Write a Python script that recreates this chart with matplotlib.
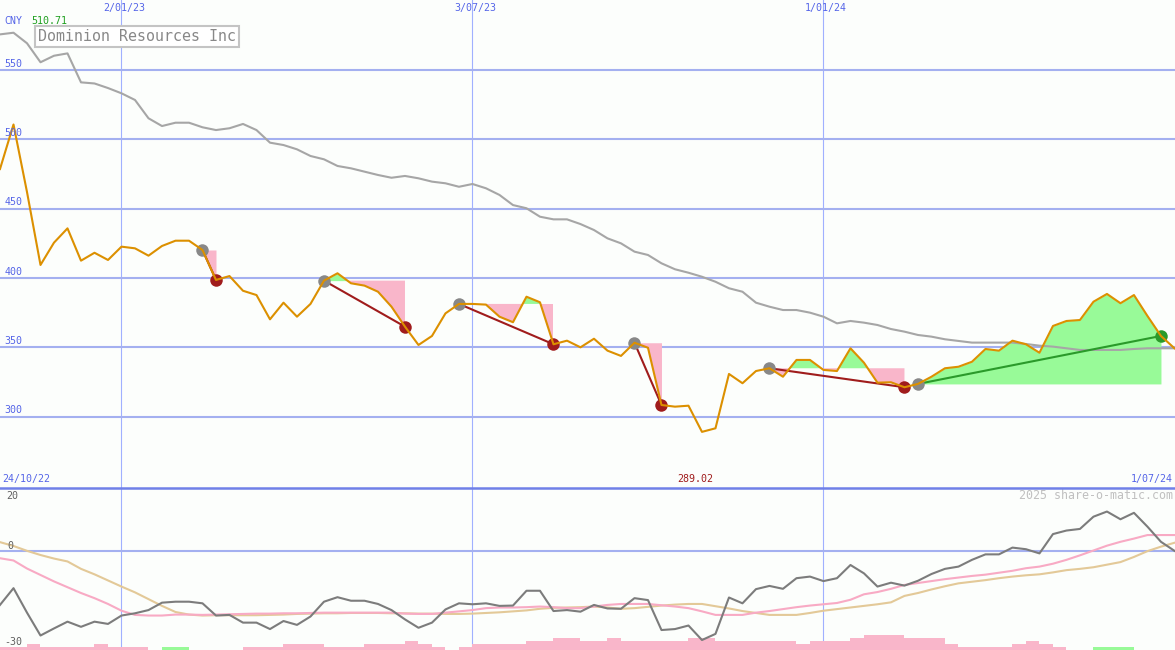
import matplotlib.pyplot as plt
import numpy as np
from matplotlib.lines import Line2D

plt.rcParams['font.family'] = ['DejaVu Sans Mono']

# weekly closes, 31/10/22 .. 1/07/24 (one value per week)
price = [478.6, 510.71, 462.0, 409.4, 425.5, 435.8, 412.5, 418.2, 413.0, 422.6,
         421.4, 416.1, 423.1, 426.9, 426.9, 420.2, 398.6, 401.4, 390.8, 387.7,
         370.2, 382.2, 372.1, 381.3, 398.1, 403.4, 396.2, 394.5, 390.1, 379.3,
         364.9, 351.7, 358.2, 374.5, 381.3, 381.3, 380.8, 372.1, 368.1, 386.5,
         382.5, 352.2, 354.8, 350.0, 356.2, 347.6, 343.8, 353.3, 349.7, 308.4,
         307.2, 307.9, 289.02, 291.6, 330.8, 324.1, 332.9, 334.9, 328.8, 340.9,
         340.9, 333.7, 332.9, 349.3, 338.9, 324.5, 324.8, 321.2, 323.6, 328.8,
         334.9, 336.0, 339.6, 348.8, 347.6, 354.8, 352.2, 346.1, 365.4, 369.0,
         369.7, 382.9, 388.5, 381.8, 387.7, 372.6, 358.2, 349.3]

# moving average (grey line)
mavg = [575.7, 576.9, 569.3, 555.6, 560.3, 562.0, 541.1, 540.3, 537.0, 533.2,
        528.4, 515.2, 509.6, 512.0, 512.0, 508.7, 506.7, 508.0, 511.1, 506.7,
        497.6, 495.9, 492.8, 488.0, 485.6, 480.8, 479.1, 476.7, 474.3, 472.3,
        473.6, 471.9, 469.5, 468.3, 465.8, 467.8, 464.7, 459.9, 452.6, 450.3,
        444.2, 442.3, 442.3, 438.9, 434.6, 428.6, 425.0, 419.0, 416.6, 410.6,
        406.3, 403.8, 400.9, 397.3, 392.6, 390.1, 382.2, 379.3, 376.9, 376.9,
        375.0, 372.1, 367.3, 369.0, 367.8, 366.1, 363.2, 361.3, 358.9, 357.7,
        355.8, 354.6, 353.4, 353.4, 353.4, 353.4, 352.4, 351.2, 350.5, 349.3,
        348.1, 348.1, 348.1, 348.1, 348.8, 349.3, 349.3, 349.3]

# lower panel indicators
osc = [-16.6, -11.4, -19.0, -26.1, -23.9, -21.8, -23.4, -21.8, -22.5, -19.9,
       -19.2, -18.2, -15.9, -15.6, -15.6, -16.1, -19.9, -19.7, -22.1, -22.1,
       -24.1, -21.6, -22.8, -20.2, -15.6, -14.2, -15.3, -15.3, -16.3, -18.2,
       -21.1, -23.7, -22.1, -18.0, -16.1, -16.4, -16.1, -16.9, -16.8, -12.2,
       -12.2, -18.5, -18.2, -18.7, -16.6, -17.7, -17.8, -14.5, -15.1, -24.4,
       -24.1, -23.0, -27.5, -25.6, -14.3, -16.1, -11.7, -10.7, -11.6, -8.3,
       -7.8, -9.2, -8.3, -4.2, -6.8, -10.9, -9.7, -10.6, -9.1, -7.0,
       -5.4, -4.7, -2.6, -0.9, -0.9, 1.2, 0.7, -0.6, 5.4, 6.5,
       7.0, 10.8, 12.4, 10.0, 12.0, 7.7, 3.0, 0.2]

sig_fast = [-2.1, -2.8, -5.3, -7.3, -9.3, -11.1, -12.9, -14.5, -16.3, -18.4,
            -19.7, -19.9, -19.9, -19.6, -19.6, -19.7, -19.6, -19.5, -19.4, -19.3,
            -19.3, -19.2, -19.2, -19.1, -19.0, -19.0, -19.0, -19.0, -19.0, -19.0,
            -19.3, -19.4, -19.4, -19.0, -18.6, -18.2, -17.6, -17.4, -17.4, -17.3,
            -17.1, -17.3, -17.6, -17.6, -17.1, -16.6, -16.3, -16.3, -16.3, -16.7,
            -17.1, -17.6, -18.6, -19.7, -19.7, -19.7, -19.0, -18.5, -17.9, -17.3,
            -16.8, -16.4, -16.0, -15.0, -13.3, -12.6, -11.6, -10.4, -9.8, -9.2,
            -8.6, -8.1, -7.6, -7.2, -6.6, -6.0, -5.2, -4.7, -3.8, -2.6,
            -1.2, 0.3, 1.8, 3.0, 4.0, 5.1, 5.1, 5.1]

sig_slow = [2.9, 1.7, 0.2, -1.1, -2.2, -3.1, -5.4, -7.1, -9.0, -10.9,
            -12.7, -14.8, -16.9, -18.8, -19.6, -19.9, -19.8, -19.8, -19.8, -19.8,
            -19.7, -19.6, -19.4, -19.3, -19.2, -19.2, -19.1, -19.1, -19.1, -19.2,
            -19.2, -19.3, -19.3, -19.4, -19.4, -19.3, -19.1, -18.9, -18.6, -18.3,
            -17.8, -17.5, -17.4, -17.3, -17.1, -17.4, -17.8, -17.6, -17.2, -16.8,
            -16.5, -16.3, -16.3, -17.0, -17.7, -18.5, -19.1, -19.7, -19.7, -19.7,
            -19.1, -18.4, -17.9, -17.4, -16.9, -16.4, -15.8, -13.8, -12.9, -11.8,
            -10.8, -9.9, -9.4, -8.9, -8.3, -7.8, -7.4, -7.1, -6.5, -5.8,
            -5.4, -4.9, -4.1, -3.3, -1.7, 0.1, 1.5, 2.7]

# small bars along the bottom (negative = green)
bars = [1, 1, 2, 1, 1, 1, 1, 2, 1, 1,
        1, 0, -1, -1, 0, 0, 0, 0, 1, 1,
        1, 2, 2, 2, 1, 1, 1, 2, 2, 2,
        3, 2, 1, 0, 1, 2, 2, 2, 2, 3,
        3, 4, 4, 3, 3, 4, 3, 3, 3, 3,
        3, 4, 4, 3, 3, 3, 3, 3, 3, 2,
        3, 3, 3, 4, 5, 5, 5, 4, 4, 4,
        2, 1, 1, 1, 1, 2, 3, 2, 1, 0,
        0, -1, -1, -1, 0, 0, 0, 0]

# trades: entry week / exit week
entries = [15, 24, 34, 47, 57, 68]
exits = [16, 30, 41, 49, 67, 86]

date_idx = [9, 35, 61]
date_labels = ['2/01/23', '3/07/23', '1/01/24']
start_label, end_label = '24/10/22', '1/07/24'
yticks = [300, 350, 400, 450, 500, 550]

BG = '#fcfefc'
GRID = '#a4b0f0'
VGRID = '#a0b0ff'
BLUE_TXT = '#5565e8'
PINK = '#f9b6ca'
LGREEN = '#98fa98'
BAR_UNIT = 0.93

price = np.array(price)
x = np.arange(len(price))
xmax = len(price) - 1 + 0.04

fig = plt.figure(figsize=(11.75, 6.5), dpi=100, facecolor=BG)
ax = fig.add_axes([0, 162.5 / 650, 1, 487.5 / 650])
ax2 = fig.add_axes([0, 0, 1, 161 / 650])
for a in (ax, ax2):
    a.set_axis_off()
    a.set_xlim(0, xmax)
    for k in date_idx:
        a.axvline(k, color=VGRID, lw=0.8, zorder=1)
ax.set_ylim(248.9, 600.5)
ax2.set_ylim(-30.6, 19.4)

# ----------------------------------------------------------------------------
# Main panel
for v in yticks:
    ax.axhline(v, color=GRID, lw=1.5, zorder=1)
    ax.text(0.004, v + 1, str(v), transform=ax.get_yaxis_transform(),
            color=BLUE_TXT, fontsize=7.2, va='bottom', ha='left', zorder=8)

ax.plot(x, mavg, color='#a6a6a6', lw=1.5, zorder=3)

for e, q in zip(entries, exits):
    seg = np.arange(e, q + 1)
    lvl = price[e]
    p = price[seg]
    ax.fill_between(seg, lvl, p, where=p >= lvl, interpolate=True,
                    color=LGREEN, lw=0, zorder=2)
    ax.fill_between(seg, lvl, p, where=p <= lvl, interpolate=True,
                    color=PINK, lw=0, zorder=2)
    win = price[q] > lvl
    lc = '#2a9a2a' if win else '#a01c1c'
    ax.plot([e, q], [lvl, price[q]], color=lc, lw=1.5, zorder=4)
    ax.plot(e, lvl, 'o', ms=9, color='#888888', mec='none', zorder=4)
    ax.plot(q, price[q], 'o', ms=9, color=lc, mec='none', zorder=4)

ax.plot(x, price, color='#dc9000', lw=1.5, zorder=5)

for k, lab in zip(date_idx, date_labels):
    ax.text(k + 0.2, 0.984, lab, transform=ax.get_xaxis_transform(),
            color=BLUE_TXT, fontsize=7.2, ha='center', va='center')

ax.text(0.004, 0.957, 'CNY', transform=ax.transAxes, color=BLUE_TXT,
        fontsize=7.2, va='center', ha='left')
ax.text(0.027, 0.957, f'{price.max():.2f}', transform=ax.transAxes,
        color='#20a020', fontsize=7.2, va='center', ha='left')
ax.text(0.032, 0.926, 'Dominion Resources Inc', transform=ax.transAxes,
        color='#888888', fontsize=10.8, va='center', ha='left', zorder=9,
        bbox=dict(boxstyle='square,pad=0.2', fc='white', ec='#c4c4c4', lw=1.5))

ax.text(0.002, 0.017, start_label, transform=ax.transAxes, color=BLUE_TXT,
        fontsize=7.2, va='center', ha='left')
ax.text(0.998, 0.017, end_label, transform=ax.transAxes, color=BLUE_TXT,
        fontsize=7.2, va='center', ha='right')
kmin = int(np.argmin(price))
ax.text(kmin - 0.5, 0.017, f'{price.min():.2f}', transform=ax.get_xaxis_transform(),
        color='#a01c1c', fontsize=7.2, va='center', ha='center')

fig.add_artist(Line2D([0, 1], [162.5 / 650] * 2, color='#6f80e8', lw=1.8))

# ----------------------------------------------------------------------------
# Lower panel
ax2.axhline(0, color=GRID, lw=1.5, zorder=1)
bar_h = [abs(b) * BAR_UNIT for b in bars]
bar_c = [PINK if b > 0 else LGREEN for b in bars]
ax2.bar(x, bar_h, width=1, align='edge', bottom=-30.6, color=bar_c, lw=0, zorder=2)

ax2.plot(x, sig_slow, color='#e3c998', lw=1.5, zorder=3)
ax2.plot(x, sig_fast, color='#f8aac4', lw=1.5, zorder=3)
ax2.plot(x, osc, color='#7c7c7c', lw=1.5, zorder=4)

ax2.text(0.005, 17.2, '20', transform=ax2.get_yaxis_transform(),
         color='#606060', fontsize=7.2, va='center', ha='left')
ax2.text(0.006, 1.7, '0', transform=ax2.get_yaxis_transform(),
         color='#606060', fontsize=7.2, va='center', ha='left')
ax2.text(0.004, -28.1, '-30', transform=ax2.get_yaxis_transform(),
         color='#606060', fontsize=7.2, va='center', ha='left')
ax2.text(0.998, 0.957, '2025 share-o-matic.com', transform=ax2.transAxes,
         color='#c0c0c0', fontsize=8.4, va='center', ha='right')

plt.savefig('out.png', dpi=100, facecolor=BG)
plt.close()
